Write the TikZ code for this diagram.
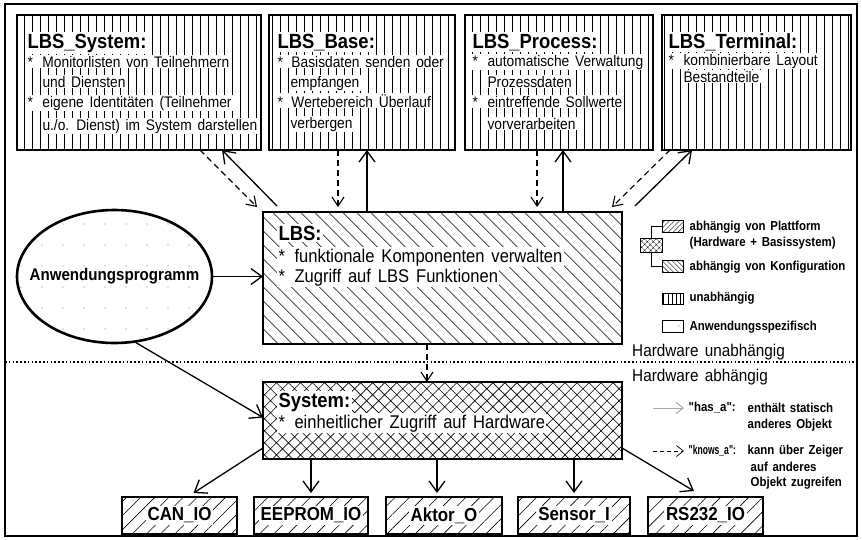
\documentclass[tikz,border=0pt]{standalone}
\usepackage{fontspec}
\setmainfont[WordSpace=1.5,FakeStretch=0.9]{Liberation Sans}
\newfontfamily\legfont[WordSpace=1.5,FakeStretch=0.88]{Liberation Sans}
\usetikzlibrary{arrows.meta,patterns.meta,shapes.geometric}
\newcommand\blt{\makebox[15pt][l]{*}}
\newcommand\bltw{\makebox[16pt][l]{*}}
\begin{document}
\begin{tikzpicture}[x=1pt,y=-1pt,
 box/.style={draw, line width=2.3pt, inner sep=0pt, outer sep=0pt},
 vhatch/.style={box, pattern={Lines[angle=90,distance=8pt,line width=0.55pt]}},
 nwhatch/.style={box, pattern={Lines[angle=-45,distance=10.5pt,line width=0.7pt]}},
 xhatch/.style={box, pattern={Hatch[angle=45,distance=8.5pt,line width=0.6pt]}},
 nehatch/.style={box, pattern={Lines[angle=45,distance=10pt,line width=0.6pt]}},
 body/.style={anchor=base west, fill=white, inner sep=1.3pt, font=\fontsize{15.3}{17}\selectfont},
 ttl/.style={anchor=base west, fill=white, inner sep=1.3pt, font=\bfseries\fontsize{20.5}{22}\selectfont},
 bigbody/.style={anchor=base west, fill=white, inner sep=1.3pt, font=\fontsize{18.4}{20}\selectfont},
 lbl/.style={fill=white, inner sep=2pt, font=\bfseries\fontsize{18.8}{20}\selectfont},
 leg/.style={anchor=west, inner sep=0.5pt, font=\legfont\bfseries\fontsize{13}{15}\selectfont},
 hwtxt/.style={anchor=base west, inner sep=0pt, font=\fontsize{17}{19}\selectfont},
 lgbox/.style={draw, line width=0.8pt, inner sep=0pt, outer sep=0pt, minimum width=21pt, minimum height=12pt},
 solarr/.style={line width=1.3pt, -{Straight Barb[length=11pt,width=16pt]}},
 dasharr/.style={line width=1.1pt, dash pattern=on 6pt off 4pt, -{Straight Barb[length=9pt,width=12pt]}},
]
\useasboundingbox (0,0) rectangle (862,539);
\draw[line width=1.6pt] (5,4) rectangle (857,536);
\draw[line width=1.3pt, dash pattern=on 1.5pt off 2.3pt] (5,362) -- (857,362);

% top boxes
\node[vhatch, minimum width=244pt, minimum height=135pt] (sys) at (139,82.5) {};
\node[vhatch, minimum width=186pt, minimum height=135pt] (base) at (362,82.5) {};
\node[vhatch, minimum width=188pt, minimum height=135pt] (proc) at (559,82.5) {};
\node[vhatch, minimum width=189pt, minimum height=135pt] (term) at (756.5,82.5) {};

\node[ttl] (sysT) at (26,48) {LBS\_System:};
\node[body] (sys1) at (26,67) {\blt Monitorlisten von Teilnehmern};
\node[body] (sys2) at (41,87) {und Diensten};
\node[body] (sys3) at (26,107) {\blt eigene Identitäten (Teilnehmer};
\node[body] (sys4) at (41,130) {u./o. Dienst) im System darstellen};

\node[ttl] (baseT) at (276,48) {LBS\_Base:};
\node[body] (base1) at (276,67) {\makebox[14pt][l]{*}Basisdaten senden oder};
\node[body] (base2) at (289,87) {empfangen};
\node[body] (base3) at (276,107) {\makebox[14pt][l]{*}Wertebereich Überlauf};
\node[body] (base4) at (289,128) {verbergen};

\node[ttl] (procT) at (471,48) {LBS\_Process:};
\node[body] (proc1) at (471,66) {\blt automatische Verwaltung};
\node[body] (proc2) at (486,87) {Prozessdaten};
\node[body] (proc3) at (471,107) {\blt eintreffende Sollwerte};
\node[body] (proc4) at (486,129) {vorverarbeiten};

\node[ttl] (termT) at (667,48) {LBS\_Terminal:};
\node[body] (term1) at (667,65) {\blt kombinierbare Layout};
\node[body] (term2) at (682,82) {Bestandteile};

% LBS
\node[nwhatch, minimum width=359pt, minimum height=132pt] (lbs) at (442.5,278) {};
\node[ttl] (lbsT) at (277,240) {LBS:};
\node[bigbody] (lbs1) at (277,262) {\bltw funktionale Komponenten verwalten};
\node[bigbody] (lbs2) at (277,282) {\bltw Zugriff auf LBS Funktionen};

% Anwendungsprogramm
\node[draw, ellipse, line width=2.6pt, minimum width=195pt, minimum height=133pt, inner sep=0pt,
      pattern={Dots[distance=21pt,radius=0.55pt]}, pattern color=gray] (app) at (114.5,276.5) {};
\node[fill=white, inner sep=1pt, font=\bfseries\fontsize{16.8}{18}\selectfont] (apptxt) at (app) {Anwendungsprogramm};

% System
\node[xhatch, minimum width=359pt, minimum height=77pt] (hw) at (442.5,420.5) {};
\node[ttl] (hwT) at (277,407) {System:};
\node[bigbody] (hw1) at (277,428) {\bltw einheitlicher Zugriff auf Hardware};

% bottom boxes
\node[nehatch, minimum width=115pt, minimum height=37pt] (can) at (179.5,515.5) {};
\node[nehatch, minimum width=114pt, minimum height=37pt] (eeprom) at (311,515.5) {};
\node[nehatch, minimum width=116pt, minimum height=37pt] (aktor) at (444,515.5) {};
\node[nehatch, minimum width=112pt, minimum height=37pt] (sensor) at (574,515.5) {};
\node[nehatch, minimum width=115pt, minimum height=37pt] (rs) at (705.5,515.5) {};
\node[lbl] (canL) at (can) {CAN\_IO};
\node[lbl] (eepromL) at (eeprom) {EEPROM\_IO};
\node[lbl] (aktorL) at (aktor) {Aktor\_O};
\node[lbl] (sensorL) at (sensor) {Sensor\_I};
\node[lbl] (rsL) at (rs) {RS232\_IO};

% hardware labels
\node[hwtxt] (hwu) at (632,356) {Hardware unabhängig};
\node[hwtxt] (hwa) at (632,381) {Hardware abhängig};

% connectors top
\draw[dasharr] ([xshift=183pt]sys.south west) -- ([xshift=-6pt,yshift=5pt]lbs.north west);
\draw[solarr] ([xshift=14pt,yshift=6pt]lbs.north west) -- ([xshift=205pt]sys.south west);
\draw[dasharr] ([xshift=69pt]base.south west) -- ([xshift=75pt,yshift=5pt]lbs.north west);
\draw[solarr] ([xshift=104pt]lbs.north west) -- ([xshift=98pt]base.south west);
\draw[dasharr] ([xshift=72pt]proc.south west) -- ([xshift=274pt,yshift=5pt]lbs.north west);
\draw[solarr] ([xshift=300pt]lbs.north west) -- ([xshift=98pt]proc.south west);
\draw[dasharr] ([xshift=8pt]term.south west) -- ([xshift=-10pt,yshift=5pt]lbs.north east);
\draw[solarr] ([xshift=13pt,yshift=6pt]lbs.north east) -- ([xshift=30pt]term.south west);

% connectors middle
\draw[solarr] (app.east) -- (app.east -| lbs.west);
\draw[solarr] (app.-72) -- ([yshift=3pt]hw.west);
\draw[dasharr] ([xshift=164pt]lbs.south west) -- ([xshift=164pt]hw.north west);

% connectors bottom
\draw[solarr] ([yshift=11pt]hw.south west) -- ([xshift=14pt,yshift=4pt]can.north);
\draw[solarr] (hw.south -| eeprom.north) -- ([yshift=4pt]eeprom.north);
\draw[solarr] ([xshift=174pt]hw.south west) -- ([xshift=-7pt,yshift=4pt]aktor.north);
\draw[solarr] (hw.south -| sensor.north) -- ([yshift=4pt]sensor.north);
\draw[solarr] ([yshift=11pt]hw.south east) -- ([xshift=46pt,yshift=6pt]rs.north west);

% legend patterns
\node[lgbox, minimum width=22pt, minimum height=14pt, pattern={Hatch[angle=45,distance=4pt,line width=0.4pt]}] (lgX) at (651,245) {};
\node[lgbox, pattern={Lines[angle=45,distance=3.5pt,line width=0.4pt]}] (lgNE) at (672.5,226) {};
\node[lgbox, pattern={Lines[angle=-45,distance=3.5pt,line width=0.4pt]}] (lgNW) at (672.5,266) {};
\node[lgbox, minimum height=11pt, pattern={Lines[angle=90,distance=4.2pt,line width=0.4pt]}] (lgV) at (672.5,298.5) {};
\node[lgbox] (lgE) at (672.5,326) {};
\fill[gray] (679,326) circle (0.6pt);
\draw[line width=0.7pt] (lgNE.west) -| (lgX.north);
\draw[line width=0.7pt] (lgNW.west) -| (lgX.south);
\node[leg] (lt1) at (689,227) {abhängig von Plattform};
\node[leg] (lt2) at (689,243) {(Hardware + Basissystem)};
\node[leg] (lt3) at (689,267) {abhängig von Konfiguration};
\node[leg] (lt4) at (689,298) {unabhängig};
\node[leg] (lt5) at (689,327) {Anwendungsspezifisch};

% legend arrows
\coordinate (ha1) at (653,408);
\coordinate (ha2) at (684,408);
\coordinate (ka1) at (653,451);
\coordinate (ka2) at (684,451);
\draw[gray!70, line width=1pt, -{Straight Barb[length=7pt,width=11pt]}] (ha1) -- (ha2);
\draw[line width=0.7pt, dash pattern=on 4pt off 3pt, -{Straight Barb[length=7pt,width=11pt]}] (ka1) -- (ka2);
\node[leg] (la1) at (688,408) {"has\_a":};
\node[leg] (la2) at (747,408) {enthält statisch};
\node[leg] (la3) at (747,425) {anderes Objekt};
\node[leg] (lb1) at (688,451) {\scalebox{0.75}[1]{"knows\_a":}};
\node[leg] (lb2) at (747,451) {kann über Zeiger};
\node[leg] (lb3) at (750,467) {auf anderes};
\node[leg] (lb4) at (750,483) {Objekt zugreifen};
\end{tikzpicture}
\end{document}
